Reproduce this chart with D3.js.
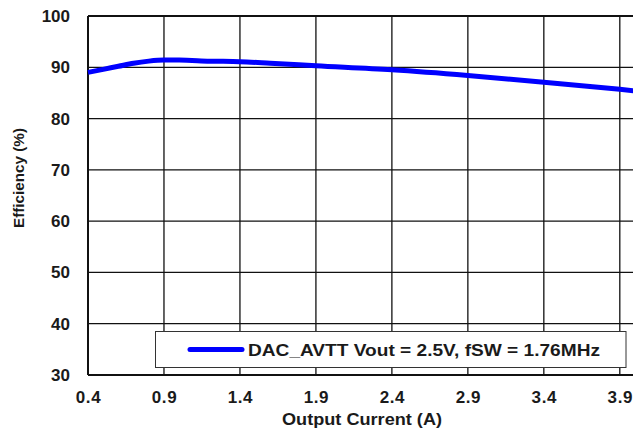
<!DOCTYPE html>
<html><head><meta charset="utf-8">
<script src="https://cdn.jsdelivr.net/npm/d3@7"></script>
<style>body{margin:0;background:#fff}svg{display:block}text{font-family:"Liberation Sans",Arial,sans-serif;font-weight:bold;fill:#1a1a1a}</style>
</head><body><svg id="c" width="633" height="432"></svg>
<script>
const current = [0.4, 0.5, 0.6, 0.7, 0.8, 0.9, 1.0, 1.2, 1.4, 1.6, 1.9, 2.4, 2.9, 3.4, 3.9, 4.0];
const efficiency = [89.0, 89.6, 90.2, 90.8, 91.2, 91.4, 91.4, 91.2, 91.1, 90.8, 90.3, 89.5, 88.4, 87.1, 85.7, 85.4];
const xTicks = [0.4, 0.9, 1.4, 1.9, 2.4, 2.9, 3.4, 3.9];
const yTicks = [30, 40, 50, 60, 70, 80, 90, 100];
const legendLabel = "DAC_AVTT Vout = 2.5V, fSW = 1.76MHz";

const svg = d3.select("#c");
const L = 88, T = 16, B = 375, R = 635;
const x = d3.scaleLinear().domain([0.4, 4.0]).range([L, R]);
const y = d3.scaleLinear().domain([30, 100]).range([B, T]);

const g = svg.append("g");
g.selectAll(".vx").data(xTicks).join("line")
  .attr("x1", d => x(d)).attr("x2", d => x(d)).attr("y1", T).attr("y2", B)
  .attr("stroke", "#111").attr("stroke-width", 1.3);
g.selectAll(".hy").data(yTicks).join("line")
  .attr("x1", L).attr("x2", 633).attr("y1", d => y(d)).attr("y2", d => y(d))
  .attr("stroke", "#111").attr("stroke-width", 1.3);
g.append("line").attr("x1", L).attr("x2", L).attr("y1", T).attr("y2", B).attr("stroke", "#111").attr("stroke-width", 2);
g.append("line").attr("x1", L).attr("x2", 633).attr("y1", B).attr("y2", B).attr("stroke", "#111").attr("stroke-width", 2);
g.append("line").attr("x1", L).attr("x2", 633).attr("y1", T).attr("y2", T).attr("stroke", "#111").attr("stroke-width", 2);

const xAxis = svg.append("g").attr("transform", `translate(0,${B})`)
  .call(d3.axisBottom(x).tickValues(xTicks).tickFormat(d3.format(".1f")).tickSize(0).tickPadding(16));
const yAxis = svg.append("g").attr("transform", `translate(${L},0)`)
  .call(d3.axisLeft(y).tickValues(yTicks).tickSize(0).tickPadding(18));
[xAxis, yAxis].forEach(a => { a.select(".domain").remove(); a.selectAll("text").attr("font-size", 17).attr("font-family", null).attr("fill", "#1a1a1a"); });
xAxis.selectAll("text").attr("dy", "0.71em").attr("letter-spacing", 0.6);

const line = d3.line().x((d, i) => x(current[i])).y(d => y(d)).curve(d3.curveMonotoneX);
svg.append("path").datum(efficiency).attr("d", line)
  .attr("fill", "none").attr("stroke", "#0000ff").attr("stroke-width", 5);

svg.append("rect").attr("x", 155.5).attr("y", 331.5).attr("width", 470.5).attr("height", 36)
  .attr("fill", "#fff").attr("stroke", "#333").attr("stroke-width", 1);
svg.append("line").attr("x1", 190).attr("x2", 242).attr("y1", 349.5).attr("y2", 349.5)
  .attr("stroke", "#0000ff").attr("stroke-width", 5).attr("stroke-linecap", "round");
svg.append("text").attr("x", 248).attr("y", 355.5).attr("font-size", 17)
  .attr("textLength", 352).attr("lengthAdjust", "spacingAndGlyphs").text(legendLabel);

svg.append("text").attr("x", 282).attr("y", 425).attr("font-size", 17)
  .attr("textLength", 160).attr("lengthAdjust", "spacingAndGlyphs").text("Output Current (A)");
svg.append("text").attr("transform", "translate(24,178) rotate(-90)").attr("text-anchor", "middle").attr("font-size", 15)
  .attr("textLength", 100).attr("lengthAdjust", "spacingAndGlyphs").text("Efficiency (%)");
</script></body></html>
